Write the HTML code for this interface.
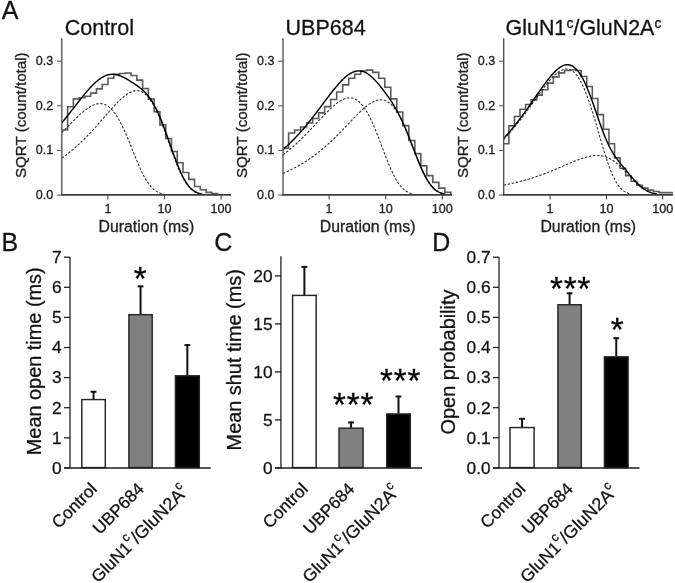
<!DOCTYPE html>
<html><head><meta charset="utf-8"><title>Figure</title>
<style>
html,body{margin:0;padding:0;background:#fff;}
body{width:675px;height:583px;overflow:hidden;font-family:"Liberation Sans",sans-serif;}
svg{display:block;will-change:transform;}
svg text{font-family:"Liberation Sans",sans-serif;}
</style></head><body>
<svg width="675" height="583" viewBox="0 0 675 583" font-family='"Liberation Sans", sans-serif'>
<g stroke="#1a1a1a" stroke-width="0.3">
<path d="M61.80 129.93 L67.60 129.93 L67.60 106.74 L73.37 106.74 L73.37 98.89 L79.14 98.89 L79.14 97.82 L84.91 97.82 L84.91 96.21 L90.68 96.21 L90.68 93.13 L96.45 93.13 L96.45 88.90 L102.22 88.90 L102.22 84.57 L107.99 84.57 L107.99 78.19 L113.76 78.19 L113.76 74.40 L119.53 74.40 L119.53 73.47 L125.30 73.47 L125.30 73.06 L131.07 73.06 L131.07 75.52 L136.84 75.52 L136.84 80.11 L142.61 80.11 L142.61 88.54 L148.38 88.54 L148.38 99.11 L154.15 99.11 L154.15 111.82 L159.92 111.82 L159.92 124.89 L165.69 124.89 L165.69 138.54 L171.46 138.54 L171.46 151.47 L177.23 151.47 L177.23 162.76 L183.00 162.76 L183.00 172.48 L188.77 172.48 L188.77 179.35 L194.54 179.35 L194.54 186.57 L200.31 186.57 L200.31 189.78 L206.08 189.78 L206.08 192.37 L211.85 192.37 L211.85 193.53 L217.62 193.53 L217.62 194.60" fill="none" stroke="#5a5a5a" stroke-width="1.6" stroke-linejoin="miter"/>
<path d="M61.80 132.54 L62.65 131.70 L63.49 130.85 L64.34 130.00 L65.18 129.15 L66.03 128.30 L66.88 127.44 L67.72 126.59 L68.57 125.73 L69.41 124.88 L70.26 124.02 L71.11 123.17 L71.95 122.32 L72.80 121.48 L73.64 120.64 L74.49 119.81 L75.34 118.98 L76.18 118.16 L77.03 117.35 L77.87 116.54 L78.72 115.75 L79.57 114.97 L80.41 114.21 L81.26 113.45 L82.10 112.72 L82.95 112.00 L83.80 111.30 L84.64 110.61 L85.49 109.95 L86.33 109.32 L87.18 108.70 L88.03 108.12 L88.87 107.56 L89.72 107.03 L90.56 106.53 L91.41 106.06 L92.26 105.63 L93.10 105.23 L93.95 104.88 L94.79 104.56 L95.64 104.29 L96.49 104.06 L97.33 103.87 L98.18 103.74 L99.02 103.65 L99.87 103.62 L100.72 103.64 L101.56 103.71 L102.41 103.84 L103.25 104.03 L104.10 104.28 L104.95 104.60 L105.79 104.98 L106.64 105.42 L107.48 105.93 L108.33 106.51 L109.18 107.15 L110.02 107.87 L110.87 108.66 L111.71 109.52 L112.56 110.45 L113.41 111.45 L114.25 112.52 L115.10 113.67 L115.94 114.89 L116.79 116.17 L117.64 117.53 L118.48 118.96 L119.33 120.45 L120.17 122.01 L121.02 123.63 L121.87 125.31 L122.71 127.05 L123.56 128.84 L124.40 130.69 L125.25 132.58 L126.10 134.51 L126.94 136.49 L127.79 138.50 L128.63 140.54 L129.48 142.60 L130.33 144.69 L131.17 146.78 L132.02 148.89 L132.86 151.00 L133.71 153.10 L134.56 155.20 L135.40 157.27 L136.25 159.33 L137.09 161.36 L137.94 163.36 L138.79 165.32 L139.63 167.23 L140.48 169.10 L141.32 170.91 L142.17 172.66 L143.02 174.35 L143.86 175.98 L144.71 177.53 L145.55 179.01 L146.40 180.42 L147.25 181.75 L148.09 183.00 L148.94 184.17 L149.78 185.27 L150.63 186.29 L151.48 187.23 L152.32 188.09 L153.17 188.89 L154.01 189.61 L154.86 190.26 L155.71 190.85 L156.55 191.38 L157.40 191.85 L158.24 192.26 L159.09 192.63 L159.94 192.95 L160.78 193.22 L161.63 193.46 L162.47 193.67 L163.32 193.84 L164.17 194.60" fill="none" stroke="#222" stroke-width="1.05" stroke-dasharray="2.4 1.7"/>
<path d="M61.80 158.15 L62.65 157.55 L63.49 156.94 L64.34 156.32 L65.18 155.69 L66.03 155.05 L66.88 154.41 L67.72 153.75 L68.57 153.08 L69.41 152.41 L70.26 151.73 L71.11 151.03 L71.95 150.33 L72.80 149.62 L73.64 148.90 L74.49 148.17 L75.34 147.43 L76.18 146.68 L77.03 145.92 L77.87 145.15 L78.72 144.37 L79.57 143.58 L80.41 142.79 L81.26 141.98 L82.10 141.17 L82.95 140.34 L83.80 139.51 L84.64 138.67 L85.49 137.81 L86.33 136.95 L87.18 136.09 L88.03 135.21 L88.87 134.32 L89.72 133.43 L90.56 132.53 L91.41 131.62 L92.26 130.71 L93.10 129.78 L93.95 128.85 L94.79 127.92 L95.64 126.98 L96.49 126.03 L97.33 125.07 L98.18 124.12 L99.02 123.15 L99.87 122.19 L100.72 121.22 L101.56 120.25 L102.41 119.27 L103.25 118.30 L104.10 117.32 L104.95 116.34 L105.79 115.37 L106.64 114.39 L107.48 113.42 L108.33 112.45 L109.18 111.48 L110.02 110.52 L110.87 109.56 L111.71 108.62 L112.56 107.68 L113.41 106.74 L114.25 105.82 L115.10 104.91 L115.94 104.02 L116.79 103.14 L117.64 102.27 L118.48 101.42 L119.33 100.59 L120.17 99.78 L121.02 98.99 L121.87 98.23 L122.71 97.49 L123.56 96.78 L124.40 96.09 L125.25 95.44 L126.10 94.82 L126.94 94.24 L127.79 93.69 L128.63 93.18 L129.48 92.71 L130.33 92.28 L131.17 91.90 L132.02 91.57 L132.86 91.29 L133.71 91.06 L134.56 90.88 L135.40 90.76 L136.25 90.69 L137.09 90.69 L137.94 90.75 L138.79 90.87 L139.63 91.06 L140.48 91.32 L141.32 91.65 L142.17 92.05 L143.02 92.52 L143.86 93.08 L144.71 93.70 L145.55 94.41 L146.40 95.19 L147.25 96.06 L148.09 97.01 L148.94 98.04 L149.78 99.15 L150.63 100.34 L151.48 101.62 L152.32 102.97 L153.17 104.41 L154.01 105.93 L154.86 107.53 L155.71 109.20 L156.55 110.95 L157.40 112.77 L158.24 114.66 L159.09 116.62 L159.94 118.64 L160.78 120.73 L161.63 122.87 L162.47 125.06 L163.32 127.30 L164.17 129.58 L165.01 131.89 L165.86 134.24 L166.70 136.61 L167.55 139.00 L168.40 141.40 L169.24 143.81 L170.09 146.21 L170.93 148.61 L171.78 150.99 L172.63 153.36 L173.47 155.69 L174.32 157.99 L175.16 160.24 L176.01 162.45 L176.86 164.61 L177.70 166.70 L178.55 168.73 L179.39 170.69 L180.24 172.58 L181.09 174.38 L181.93 176.11 L182.78 177.75 L183.62 179.31 L184.47 180.77 L185.32 182.15 L186.16 183.44 L187.01 184.64 L187.85 185.75 L188.70 186.77 L189.55 187.71 L190.39 188.57 L191.24 189.35 L192.08 190.05 L192.93 190.68 L193.78 191.24 L194.62 191.74 L195.47 192.18 L196.31 192.57 L197.16 192.90 L198.01 193.19 L198.85 193.44 L199.70 193.65 L200.54 193.83 L201.39 194.60" fill="none" stroke="#222" stroke-width="1.05" stroke-dasharray="2.4 1.7"/>
<path d="M61.80 122.91 L62.65 121.88 L63.49 120.85 L64.34 119.80 L65.18 118.76 L66.03 117.70 L66.88 116.64 L67.72 115.57 L68.57 114.50 L69.41 113.43 L70.26 112.35 L71.11 111.27 L71.95 110.18 L72.80 109.10 L73.64 108.01 L74.49 106.92 L75.34 105.84 L76.18 104.75 L77.03 103.66 L77.87 102.58 L78.72 101.50 L79.57 100.43 L80.41 99.36 L81.26 98.30 L82.10 97.24 L82.95 96.19 L83.80 95.16 L84.64 94.13 L85.49 93.11 L86.33 92.11 L87.18 91.12 L88.03 90.15 L88.87 89.20 L89.72 88.26 L90.56 87.34 L91.41 86.44 L92.26 85.57 L93.10 84.71 L93.95 83.89 L94.79 83.08 L95.64 82.31 L96.49 81.56 L97.33 80.85 L98.18 80.16 L99.02 79.51 L99.87 78.89 L100.72 78.31 L101.56 77.76 L102.41 77.25 L103.25 76.78 L104.10 76.35 L104.95 75.95 L105.79 75.60 L106.64 75.29 L107.48 75.02 L108.33 74.79 L109.18 74.60 L110.02 74.46 L110.87 74.36 L111.71 74.30 L112.56 74.28 L113.41 74.31 L114.25 74.37 L115.10 74.48 L115.94 74.62 L116.79 74.80 L117.64 75.01 L118.48 75.26 L119.33 75.54 L120.17 75.85 L121.02 76.20 L121.87 76.56 L122.71 76.96 L123.56 77.37 L124.40 77.81 L125.25 78.26 L126.10 78.73 L126.94 79.21 L127.79 79.71 L128.63 80.22 L129.48 80.73 L130.33 81.26 L131.17 81.79 L132.02 82.33 L132.86 82.87 L133.71 83.42 L134.56 83.98 L135.40 84.55 L136.25 85.12 L137.09 85.71 L137.94 86.31 L138.79 86.93 L139.63 87.57 L140.48 88.23 L141.32 88.91 L142.17 89.63 L143.02 90.37 L143.86 91.16 L144.71 91.98 L145.55 92.85 L146.40 93.77 L147.25 94.74 L148.09 95.77 L148.94 96.86 L149.78 98.01 L150.63 99.22 L151.48 100.50 L152.32 101.85 L153.17 103.27 L154.01 104.76 L154.86 106.33 L155.71 107.96 L156.55 109.67 L157.40 111.44 L158.24 113.29 L159.09 115.20 L159.94 117.17 L160.78 119.21 L161.63 121.30 L162.47 123.45 L163.32 125.65 L164.17 127.89 L165.01 130.18 L165.86 132.49 L166.70 134.84 L167.55 137.21 L168.40 139.60 L169.24 142.00 L170.09 144.40 L170.93 146.80 L171.78 149.19 L172.63 151.57 L173.47 153.92 L174.32 156.24 L175.16 158.52 L176.01 160.77 L176.86 162.96 L177.70 165.10 L178.55 167.17 L179.39 169.19 L180.24 171.13 L181.09 172.99 L181.93 174.78 L182.78 176.49 L183.62 178.11 L184.47 179.64 L185.32 181.09 L186.16 182.44 L187.01 183.71 L187.85 184.89 L188.70 185.98 L189.55 186.98 L190.39 187.90 L191.24 188.74 L192.08 189.51 L192.93 190.19 L193.78 190.81 L194.62 191.36 L195.47 191.84 L196.31 192.27 L197.16 192.65 L198.01 192.97 L198.85 193.25 L199.70 193.49 L200.54 193.70 L201.39 193.87 L202.24 194.01" fill="none" stroke="#000" stroke-width="1.45" stroke-linejoin="round"/>
<line x1="61.80" y1="38.3" x2="61.80" y2="195.50" stroke="#505050" stroke-width="1.35"/>
<line x1="61.10" y1="194.80" x2="231.00" y2="194.80" stroke="#3c3c3c" stroke-width="1.75"/>
<line x1="57.00" y1="195.00" x2="61.80" y2="195.00" stroke="#555" stroke-width="1.05"/>
<text x="53.20" y="198.90" font-size="12.5" text-anchor="end" fill="#222">0.0</text>
<line x1="57.00" y1="150.40" x2="61.80" y2="150.40" stroke="#555" stroke-width="1.05"/>
<text x="53.20" y="154.30" font-size="12.5" text-anchor="end" fill="#222">0.1</text>
<line x1="57.00" y1="105.80" x2="61.80" y2="105.80" stroke="#555" stroke-width="1.05"/>
<text x="53.20" y="109.70" font-size="12.5" text-anchor="end" fill="#222">0.2</text>
<line x1="57.00" y1="61.20" x2="61.80" y2="61.20" stroke="#555" stroke-width="1.05"/>
<text x="53.20" y="65.10" font-size="12.5" text-anchor="end" fill="#222">0.3</text>
<line x1="107.90" y1="194.60" x2="107.90" y2="199.50" stroke="#4a4a4a" stroke-width="1.1"/>
<text x="107.90" y="212.8" font-size="12.6" text-anchor="middle" fill="#222">1</text>
<line x1="164.50" y1="194.60" x2="164.50" y2="199.50" stroke="#4a4a4a" stroke-width="1.1"/>
<text x="164.50" y="212.8" font-size="12.6" text-anchor="middle" fill="#222">10</text>
<line x1="221.10" y1="194.60" x2="221.10" y2="199.50" stroke="#4a4a4a" stroke-width="1.1"/>
<text x="221.10" y="212.8" font-size="12.6" text-anchor="middle" fill="#222">100</text>
<text x="146.40" y="232.0" font-size="15.8" text-anchor="middle" fill="#222">Duration (ms)</text>
<text transform="translate(25.60 115.20) rotate(-90)" font-size="15.15" text-anchor="middle" fill="#222">SQRT (count/total)</text>
<text x="64.70" y="35" font-size="21.5" fill="#111">Control</text>
<path d="M283.00 148.22 L288.60 148.22 L288.60 133.05 L294.61 133.05 L294.61 130.02 L300.62 130.02 L300.62 126.94 L306.63 126.94 L306.63 122.93 L312.64 122.93 L312.64 118.51 L318.65 118.51 L318.65 112.89 L324.66 112.89 L324.66 106.60 L330.67 106.60 L330.67 99.56 L336.68 99.56 L336.68 91.93 L342.69 91.93 L342.69 84.88 L348.70 84.88 L348.70 78.19 L354.71 78.19 L354.71 74.18 L360.72 74.18 L360.72 70.79 L366.73 70.79 L366.73 70.17 L372.74 70.17 L372.74 72.40 L378.75 72.40 L378.75 78.19 L384.76 78.19 L384.76 87.25 L390.77 87.25 L390.77 98.89 L396.78 98.89 L396.78 111.96 L402.79 111.96 L402.79 125.60 L408.80 125.60 L408.80 140.50 L414.81 140.50 L414.81 153.66 L420.82 153.66 L420.82 165.88 L426.83 165.88 L426.83 175.64 L432.84 175.64 L432.84 182.33 L438.85 182.33 L438.85 188.13 L444.86 188.13 L444.86 192.24 L450.87 192.24 L450.87 194.60" fill="none" stroke="#5a5a5a" stroke-width="1.6" stroke-linejoin="miter"/>
<path d="M283.00 154.84 L283.85 154.19 L284.69 153.54 L285.54 152.88 L286.38 152.21 L287.23 151.54 L288.07 150.85 L288.92 150.16 L289.76 149.45 L290.61 148.74 L291.45 148.02 L292.30 147.29 L293.14 146.55 L293.99 145.80 L294.83 145.05 L295.68 144.28 L296.52 143.51 L297.37 142.73 L298.21 141.94 L299.06 141.14 L299.90 140.33 L300.75 139.52 L301.59 138.70 L302.44 137.87 L303.28 137.03 L304.12 136.19 L304.97 135.34 L305.81 134.48 L306.66 133.62 L307.50 132.75 L308.35 131.88 L309.19 131.00 L310.04 130.11 L310.88 129.22 L311.73 128.33 L312.57 127.43 L313.42 126.53 L314.26 125.63 L315.11 124.72 L315.95 123.81 L316.80 122.91 L317.64 122.00 L318.49 121.09 L319.33 120.18 L320.18 119.27 L321.02 118.37 L321.87 117.47 L322.72 116.58 L323.56 115.68 L324.40 114.80 L325.25 113.92 L326.10 113.05 L326.94 112.19 L327.78 111.34 L328.63 110.51 L329.48 109.68 L330.32 108.87 L331.17 108.08 L332.01 107.30 L332.86 106.54 L333.70 105.80 L334.55 105.08 L335.39 104.38 L336.24 103.71 L337.08 103.07 L337.93 102.45 L338.77 101.86 L339.62 101.31 L340.46 100.79 L341.31 100.30 L342.15 99.85 L343.00 99.44 L343.84 99.07 L344.69 98.75 L345.53 98.47 L346.38 98.24 L347.22 98.05 L348.06 97.92 L348.91 97.84 L349.75 97.82 L350.60 97.85 L351.44 97.95 L352.29 98.10 L353.13 98.32 L353.98 98.60 L354.82 98.95 L355.67 99.37 L356.51 99.85 L357.36 100.41 L358.20 101.04 L359.05 101.74 L359.89 102.52 L360.74 103.38 L361.58 104.30 L362.43 105.31 L363.27 106.39 L364.12 107.55 L364.97 108.78 L365.81 110.09 L366.65 111.48 L367.50 112.93 L368.35 114.46 L369.19 116.07 L370.03 117.73 L370.88 119.47 L371.73 121.27 L372.57 123.13 L373.42 125.05 L374.26 127.02 L375.11 129.04 L375.95 131.10 L376.80 133.21 L377.64 135.35 L378.49 137.52 L379.33 139.72 L380.18 141.93 L381.02 144.17 L381.87 146.40 L382.71 148.64 L383.56 150.88 L384.40 153.10 L385.25 155.31 L386.09 157.49 L386.94 159.64 L387.78 161.75 L388.62 163.83 L389.47 165.85 L390.31 167.82 L391.16 169.74 L392.00 171.59 L392.85 173.37 L393.69 175.08 L394.54 176.72 L395.38 178.28 L396.23 179.76 L397.07 181.16 L397.92 182.48 L398.76 183.71 L399.61 184.86 L400.45 185.93 L401.30 186.91 L402.14 187.82 L402.99 188.65 L403.83 189.41 L404.68 190.09 L405.52 190.70 L406.37 191.26 L407.22 191.75 L408.06 192.18 L408.90 192.56 L409.75 192.89 L410.60 193.18 L411.44 193.43 L412.28 193.64 L413.13 193.82 L413.98 194.60" fill="none" stroke="#222" stroke-width="1.05" stroke-dasharray="2.4 1.7"/>
<path d="M283.00 173.40 L283.85 173.04 L284.69 172.67 L285.54 172.30 L286.38 171.92 L287.23 171.54 L288.07 171.15 L288.92 170.75 L289.76 170.35 L290.61 169.94 L291.45 169.52 L292.30 169.10 L293.14 168.67 L293.99 168.23 L294.83 167.79 L295.68 167.34 L296.52 166.88 L297.37 166.41 L298.21 165.94 L299.06 165.46 L299.90 164.98 L300.75 164.48 L301.59 163.98 L302.44 163.47 L303.28 162.96 L304.12 162.43 L304.97 161.90 L305.81 161.36 L306.66 160.81 L307.50 160.25 L308.35 159.69 L309.19 159.12 L310.04 158.54 L310.88 157.95 L311.73 157.35 L312.57 156.74 L313.42 156.13 L314.26 155.51 L315.11 154.88 L315.95 154.24 L316.80 153.59 L317.64 152.93 L318.49 152.26 L319.33 151.59 L320.18 150.91 L321.02 150.22 L321.87 149.52 L322.72 148.81 L323.56 148.09 L324.40 147.37 L325.25 146.63 L326.10 145.89 L326.94 145.14 L327.78 144.38 L328.63 143.61 L329.48 142.84 L330.32 142.05 L331.17 141.26 L332.01 140.46 L332.86 139.66 L333.70 138.84 L334.55 138.02 L335.39 137.20 L336.24 136.36 L337.08 135.52 L337.93 134.67 L338.77 133.82 L339.62 132.96 L340.46 132.10 L341.31 131.23 L342.15 130.36 L343.00 129.48 L343.84 128.60 L344.69 127.72 L345.53 126.83 L346.38 125.95 L347.22 125.06 L348.06 124.17 L348.91 123.28 L349.75 122.39 L350.60 121.50 L351.44 120.61 L352.29 119.72 L353.13 118.84 L353.98 117.97 L354.82 117.10 L355.67 116.23 L356.51 115.37 L357.36 114.52 L358.20 113.68 L359.05 112.85 L359.89 112.04 L360.74 111.23 L361.58 110.44 L362.43 109.66 L363.27 108.90 L364.12 108.16 L364.97 107.44 L365.81 106.74 L366.65 106.07 L367.50 105.42 L368.35 104.79 L369.19 104.19 L370.03 103.62 L370.88 103.09 L371.73 102.58 L372.57 102.11 L373.42 101.68 L374.26 101.29 L375.11 100.94 L375.95 100.63 L376.80 100.36 L377.64 100.15 L378.49 99.98 L379.33 99.86 L380.18 99.79 L381.02 99.78 L381.87 99.83 L382.71 99.93 L383.56 100.10 L384.40 100.32 L385.25 100.62 L386.09 100.97 L386.94 101.39 L387.78 101.89 L388.62 102.45 L389.47 103.08 L390.31 103.79 L391.16 104.56 L392.00 105.42 L392.85 106.34 L393.69 107.34 L394.54 108.42 L395.38 109.57 L396.23 110.80 L397.07 112.09 L397.92 113.47 L398.76 114.91 L399.61 116.42 L400.45 118.01 L401.30 119.66 L402.14 121.37 L402.99 123.15 L403.83 124.98 L404.68 126.87 L405.52 128.81 L406.37 130.80 L407.22 132.83 L408.06 134.90 L408.90 137.01 L409.75 139.14 L410.60 141.30 L411.44 143.48 L412.28 145.66 L413.13 147.86 L413.98 150.05 L414.82 152.24 L415.66 154.41 L416.51 156.57 L417.36 158.70 L418.20 160.80 L419.04 162.87 L419.89 164.89 L420.74 166.86 L421.58 168.78 L422.43 170.64 L423.27 172.44 L424.12 174.17 L424.96 175.83 L425.81 177.42 L426.65 178.93 L427.50 180.37 L428.34 181.72 L429.19 182.99 L430.03 184.18 L430.88 185.29 L431.72 186.32 L432.56 187.27 L433.41 188.14 L434.25 188.94 L435.10 189.66 L435.94 190.32 L436.79 190.91 L437.63 191.43 L438.48 191.90 L439.32 192.31 L440.17 192.67 L441.01 192.99 L441.86 193.26 L442.71 193.50 L443.55 193.70 L444.39 193.87 L445.24 194.60" fill="none" stroke="#222" stroke-width="1.05" stroke-dasharray="2.4 1.7"/>
<path d="M283.00 149.54 L283.85 148.80 L284.69 148.05 L285.54 147.30 L286.38 146.53 L287.23 145.75 L288.07 144.96 L288.92 144.16 L289.76 143.35 L290.61 142.53 L291.45 141.70 L292.30 140.85 L293.14 140.00 L293.99 139.13 L294.83 138.26 L295.68 137.37 L296.52 136.47 L297.37 135.56 L298.21 134.65 L299.06 133.72 L299.90 132.78 L300.75 131.82 L301.59 130.86 L302.44 129.89 L303.28 128.91 L304.12 127.92 L304.97 126.92 L305.81 125.91 L306.66 124.89 L307.50 123.86 L308.35 122.82 L309.19 121.77 L310.04 120.71 L310.88 119.65 L311.73 118.58 L312.57 117.50 L313.42 116.41 L314.26 115.32 L315.11 114.22 L315.95 113.11 L316.80 112.00 L317.64 110.89 L318.49 109.77 L319.33 108.65 L320.18 107.52 L321.02 106.39 L321.87 105.26 L322.72 104.13 L323.56 103.00 L324.40 101.87 L325.25 100.74 L326.10 99.61 L326.94 98.49 L327.78 97.37 L328.63 96.26 L329.48 95.15 L330.32 94.05 L331.17 92.96 L332.01 91.87 L332.86 90.80 L333.70 89.74 L334.55 88.70 L335.39 87.67 L336.24 86.65 L337.08 85.66 L337.93 84.68 L338.77 83.72 L339.62 82.79 L340.46 81.87 L341.31 80.99 L342.15 80.13 L343.00 79.29 L343.84 78.49 L344.69 77.72 L345.53 76.98 L346.38 76.28 L347.22 75.61 L348.06 74.98 L348.91 74.39 L349.75 73.85 L350.60 73.34 L351.44 72.88 L352.29 72.46 L353.13 72.09 L353.98 71.76 L354.82 71.49 L355.67 71.27 L356.51 71.09 L357.36 70.97 L358.20 70.90 L359.05 70.89 L359.89 70.93 L360.74 71.02 L361.58 71.16 L362.43 71.36 L363.27 71.62 L364.12 71.93 L364.97 72.29 L365.81 72.70 L366.65 73.16 L367.50 73.67 L368.35 74.24 L369.19 74.84 L370.03 75.50 L370.88 76.20 L371.73 76.94 L372.57 77.72 L373.42 78.53 L374.26 79.39 L375.11 80.27 L375.95 81.19 L376.80 82.13 L377.64 83.10 L378.49 84.09 L379.33 85.11 L380.18 86.15 L381.02 87.20 L381.87 88.28 L382.71 89.37 L383.56 90.47 L384.40 91.59 L385.25 92.73 L386.09 93.88 L386.94 95.05 L387.78 96.24 L388.62 97.45 L389.47 98.67 L390.31 99.92 L391.16 101.19 L392.00 102.50 L392.85 103.83 L393.69 105.19 L394.54 106.58 L395.38 108.02 L396.23 109.49 L397.07 111.01 L397.92 112.57 L398.76 114.17 L399.61 115.82 L400.45 117.52 L401.30 119.26 L402.14 121.06 L402.99 122.90 L403.83 124.79 L404.68 126.72 L405.52 128.70 L406.37 130.71 L407.22 132.77 L408.06 134.86 L408.90 136.97 L409.75 139.12 L410.60 141.28 L411.44 143.46 L412.28 145.65 L413.13 147.85 L413.98 150.05 L414.82 152.24 L415.66 154.41 L416.51 156.57 L417.36 158.70 L418.20 160.80 L419.04 162.87 L419.89 164.89 L420.74 166.86 L421.58 168.78 L422.43 170.64 L423.27 172.44 L424.12 174.17 L424.96 175.83 L425.81 177.42 L426.65 178.93 L427.50 180.37 L428.34 181.72 L429.19 182.99 L430.03 184.18 L430.88 185.29 L431.72 186.32 L432.56 187.27 L433.41 188.14 L434.25 188.94 L435.10 189.66 L435.94 190.32 L436.79 190.91 L437.63 191.43 L438.48 191.90 L439.32 192.31 L440.17 192.67 L441.01 192.99 L441.86 193.26 L442.71 193.50 L443.55 193.70 L444.39 193.87 L445.24 194.01" fill="none" stroke="#000" stroke-width="1.45" stroke-linejoin="round"/>
<line x1="283.00" y1="38.3" x2="283.00" y2="195.50" stroke="#505050" stroke-width="1.35"/>
<line x1="282.30" y1="194.80" x2="452.00" y2="194.80" stroke="#3c3c3c" stroke-width="1.75"/>
<line x1="278.20" y1="195.00" x2="283.00" y2="195.00" stroke="#555" stroke-width="1.05"/>
<text x="274.40" y="198.90" font-size="12.5" text-anchor="end" fill="#222">0.0</text>
<line x1="278.20" y1="150.40" x2="283.00" y2="150.40" stroke="#555" stroke-width="1.05"/>
<text x="274.40" y="154.30" font-size="12.5" text-anchor="end" fill="#222">0.1</text>
<line x1="278.20" y1="105.80" x2="283.00" y2="105.80" stroke="#555" stroke-width="1.05"/>
<text x="274.40" y="109.70" font-size="12.5" text-anchor="end" fill="#222">0.2</text>
<line x1="278.20" y1="61.20" x2="283.00" y2="61.20" stroke="#555" stroke-width="1.05"/>
<text x="274.40" y="65.10" font-size="12.5" text-anchor="end" fill="#222">0.3</text>
<line x1="329.10" y1="194.60" x2="329.10" y2="199.50" stroke="#4a4a4a" stroke-width="1.1"/>
<text x="329.10" y="212.8" font-size="12.6" text-anchor="middle" fill="#222">1</text>
<line x1="385.70" y1="194.60" x2="385.70" y2="199.50" stroke="#4a4a4a" stroke-width="1.1"/>
<text x="385.70" y="212.8" font-size="12.6" text-anchor="middle" fill="#222">10</text>
<line x1="442.30" y1="194.60" x2="442.30" y2="199.50" stroke="#4a4a4a" stroke-width="1.1"/>
<text x="442.30" y="212.8" font-size="12.6" text-anchor="middle" fill="#222">100</text>
<text x="367.60" y="232.0" font-size="15.8" text-anchor="middle" fill="#222">Duration (ms)</text>
<text transform="translate(246.80 115.20) rotate(-90)" font-size="15.15" text-anchor="middle" fill="#222">SQRT (count/total)</text>
<text x="285.60" y="35" font-size="21.5" fill="#111">UBP684</text>
<path d="M503.70 143.76 L508.90 143.76 L508.90 125.92 L514.46 125.92 L514.46 116.55 L520.02 116.55 L520.02 109.19 L525.58 109.19 L525.58 104.51 L531.14 104.51 L531.14 99.83 L536.70 99.83 L536.70 95.14 L542.26 95.14 L542.26 89.79 L547.82 89.79 L547.82 83.10 L553.38 83.10 L553.38 76.86 L558.94 76.86 L558.94 72.84 L564.50 72.84 L564.50 70.43 L570.06 70.43 L570.06 69.72 L575.62 69.72 L575.62 70.43 L581.18 70.43 L581.18 76.50 L586.74 76.50 L586.74 86.49 L592.30 86.49 L592.30 98.53 L597.86 98.53 L597.86 114.59 L603.42 114.59 L603.42 129.31 L608.98 129.31 L608.98 143.76 L614.54 143.76 L614.54 157.89 L620.10 157.89 L620.10 168.20 L625.66 168.20 L625.66 175.69 L631.22 175.69 L631.22 181.22 L636.78 181.22 L636.78 185.32 L642.34 185.32 L642.34 188.09 L647.90 188.09 L647.90 190.14 L653.46 190.14 L653.46 191.48 L659.02 191.48 L659.02 192.59 L664.58 192.59 L664.58 192.59 L670.14 192.59 L670.14 192.59 L673.00 192.59" fill="none" stroke="#5a5a5a" stroke-width="1.6" stroke-linejoin="miter"/>
<path d="M503.70 139.37 L504.55 138.48 L505.39 137.58 L506.24 136.67 L507.09 135.75 L507.93 134.81 L508.78 133.87 L509.63 132.91 L510.47 131.94 L511.32 130.96 L512.16 129.97 L513.01 128.97 L513.86 127.95 L514.70 126.93 L515.55 125.89 L516.40 124.85 L517.24 123.79 L518.09 122.72 L518.94 121.65 L519.78 120.56 L520.63 119.46 L521.48 118.36 L522.32 117.24 L523.17 116.12 L524.02 114.99 L524.86 113.85 L525.71 112.70 L526.56 111.55 L527.40 110.39 L528.25 109.23 L529.10 108.06 L529.94 106.88 L530.79 105.70 L531.63 104.52 L532.48 103.34 L533.33 102.15 L534.17 100.96 L535.02 99.78 L535.87 98.59 L536.71 97.40 L537.56 96.22 L538.41 95.04 L539.25 93.87 L540.10 92.71 L540.95 91.55 L541.79 90.40 L542.64 89.26 L543.49 88.13 L544.33 87.01 L545.18 85.91 L546.02 84.83 L546.87 83.76 L547.72 82.72 L548.56 81.69 L549.41 80.69 L550.26 79.71 L551.10 78.77 L551.95 77.85 L552.80 76.96 L553.64 76.11 L554.49 75.29 L555.34 74.51 L556.18 73.78 L557.03 73.08 L557.88 72.43 L558.72 71.83 L559.57 71.29 L560.42 70.79 L561.26 70.35 L562.11 69.97 L562.96 69.65 L563.80 69.40 L564.65 69.21 L565.49 69.10 L566.34 69.05 L567.19 69.08 L568.03 69.19 L568.88 69.38 L569.73 69.65 L570.57 70.00 L571.42 70.44 L572.27 70.98 L573.11 71.60 L573.96 72.32 L574.81 73.13 L575.65 74.03 L576.50 75.04 L577.35 76.14 L578.19 77.35 L579.04 78.65 L579.88 80.06 L580.73 81.56 L581.58 83.17 L582.42 84.87 L583.27 86.68 L584.12 88.58 L584.96 90.57 L585.81 92.66 L586.66 94.84 L587.50 97.10 L588.35 99.45 L589.20 101.88 L590.04 104.39 L590.89 106.96 L591.74 109.60 L592.58 112.30 L593.43 115.05 L594.28 117.85 L595.12 120.69 L595.97 123.57 L596.81 126.46 L597.66 129.38 L598.51 132.30 L599.35 135.23 L600.20 138.15 L601.05 141.05 L601.89 143.93 L602.74 146.77 L603.59 149.58 L604.43 152.34 L605.28 155.04 L606.13 157.67 L606.97 160.24 L607.82 162.73 L608.67 165.13 L609.51 167.45 L610.36 169.67 L611.21 171.79 L612.05 173.80 L612.90 175.72 L613.75 177.52 L614.59 179.22 L615.44 180.81 L616.28 182.29 L617.13 183.66 L617.98 184.92 L618.82 186.08 L619.67 187.14 L620.52 188.10 L621.36 188.97 L622.21 189.75 L623.06 190.45 L623.90 191.07 L624.75 191.61 L625.60 192.09 L626.44 192.50 L627.29 192.86 L628.14 193.17 L628.98 193.43 L629.83 193.65 L630.67 193.84 L631.52 194.60" fill="none" stroke="#222" stroke-width="1.05" stroke-dasharray="2.4 1.7"/>
<path d="M503.70 185.10 L504.55 184.93 L505.39 184.77 L506.24 184.60 L507.09 184.43 L507.93 184.26 L508.78 184.08 L509.63 183.90 L510.47 183.72 L511.32 183.54 L512.16 183.35 L513.01 183.16 L513.86 182.97 L514.70 182.77 L515.55 182.57 L516.40 182.37 L517.24 182.17 L518.09 181.96 L518.94 181.74 L519.78 181.53 L520.63 181.31 L521.48 181.09 L522.32 180.87 L523.17 180.64 L524.02 180.41 L524.86 180.17 L525.71 179.93 L526.56 179.69 L527.40 179.45 L528.25 179.20 L529.10 178.94 L529.94 178.69 L530.79 178.43 L531.63 178.17 L532.48 177.90 L533.33 177.63 L534.17 177.36 L535.02 177.08 L535.87 176.80 L536.71 176.51 L537.56 176.23 L538.41 175.93 L539.25 175.64 L540.10 175.34 L540.95 175.04 L541.79 174.73 L542.64 174.42 L543.49 174.11 L544.33 173.79 L545.18 173.47 L546.02 173.15 L546.87 172.82 L547.72 172.49 L548.56 172.16 L549.41 171.83 L550.26 171.49 L551.10 171.15 L551.95 170.80 L552.80 170.45 L553.64 170.10 L554.49 169.75 L555.34 169.40 L556.18 169.04 L557.03 168.68 L557.88 168.32 L558.72 167.95 L559.57 167.59 L560.42 167.22 L561.26 166.86 L562.11 166.49 L562.96 166.12 L563.80 165.75 L564.65 165.38 L565.49 165.01 L566.34 164.64 L567.19 164.27 L568.03 163.90 L568.88 163.53 L569.73 163.17 L570.57 162.81 L571.42 162.45 L572.27 162.09 L573.11 161.73 L573.96 161.38 L574.81 161.04 L575.65 160.69 L576.50 160.36 L577.35 160.03 L578.19 159.70 L579.04 159.38 L579.88 159.07 L580.73 158.77 L581.58 158.47 L582.42 158.19 L583.27 157.91 L584.12 157.65 L584.96 157.40 L585.81 157.16 L586.66 156.93 L587.50 156.71 L588.35 156.51 L589.20 156.33 L590.04 156.16 L590.89 156.01 L591.74 155.87 L592.58 155.76 L593.43 155.66 L594.28 155.59 L595.12 155.53 L595.97 155.50 L596.81 155.49 L597.66 155.50 L598.51 155.54 L599.35 155.60 L600.20 155.68 L601.05 155.80 L601.89 155.94 L602.74 156.11 L603.59 156.31 L604.43 156.53 L605.28 156.79 L606.13 157.08 L606.97 157.40 L607.82 157.74 L608.67 158.12 L609.51 158.53 L610.36 158.98 L611.21 159.45 L612.05 159.95 L612.90 160.49 L613.75 161.05 L614.59 161.65 L615.44 162.28 L616.28 162.93 L617.13 163.61 L617.98 164.32 L618.82 165.06 L619.67 165.82 L620.52 166.60 L621.36 167.41 L622.21 168.23 L623.06 169.07 L623.90 169.93 L624.75 170.81 L625.60 171.69 L626.44 172.59 L627.29 173.49 L628.14 174.40 L628.98 175.31 L629.83 176.22 L630.67 177.13 L631.52 178.04 L632.37 178.93 L633.21 179.82 L634.06 180.69 L634.91 181.55 L635.75 182.39 L636.60 183.20 L637.45 184.00 L638.29 184.77 L639.14 185.52 L639.99 186.23 L640.83 186.92 L641.68 187.58 L642.53 188.20 L643.37 188.79 L644.22 189.35 L645.07 189.88 L645.91 190.37 L646.76 190.82 L647.61 191.25 L648.45 191.63 L649.30 191.99 L650.14 192.32 L650.99 192.61 L651.84 192.88 L652.68 193.12 L653.53 193.33 L654.38 193.52 L655.22 193.69 L656.07 193.84 L656.92 194.60" fill="none" stroke="#222" stroke-width="1.05" stroke-dasharray="2.4 1.7"/>
<path d="M503.70 138.29 L504.55 137.38 L505.39 136.46 L506.24 135.53 L507.09 134.59 L507.93 133.63 L508.78 132.66 L509.63 131.69 L510.47 130.69 L511.32 129.69 L512.16 128.68 L513.01 127.65 L513.86 126.62 L514.70 125.57 L515.55 124.51 L516.40 123.44 L517.24 122.36 L518.09 121.26 L518.94 120.16 L519.78 119.05 L520.63 117.93 L521.48 116.79 L522.32 115.65 L523.17 114.50 L524.02 113.34 L524.86 112.17 L525.71 111.00 L526.56 109.81 L527.40 108.62 L528.25 107.43 L529.10 106.23 L529.94 105.02 L530.79 103.81 L531.63 102.59 L532.48 101.37 L533.33 100.15 L534.17 98.93 L535.02 97.70 L535.87 96.48 L536.71 95.25 L537.56 94.03 L538.41 92.82 L539.25 91.60 L540.10 90.40 L540.95 89.19 L541.79 88.00 L542.64 86.82 L543.49 85.64 L544.33 84.48 L545.18 83.34 L546.02 82.20 L546.87 81.09 L547.72 79.99 L548.56 78.92 L549.41 77.86 L550.26 76.83 L551.10 75.83 L551.95 74.85 L552.80 73.91 L553.64 73.00 L554.49 72.12 L555.34 71.28 L556.18 70.48 L557.03 69.72 L557.88 69.00 L558.72 68.33 L559.57 67.71 L560.42 67.14 L561.26 66.63 L562.11 66.17 L562.96 65.77 L563.80 65.43 L564.65 65.16 L565.49 64.95 L566.34 64.81 L567.19 64.75 L568.03 64.76 L568.88 64.84 L569.73 65.01 L570.57 65.25 L571.42 65.58 L572.27 65.99 L573.11 66.49 L573.96 67.08 L574.81 67.76 L575.65 68.52 L576.50 69.38 L577.35 70.34 L578.19 71.38 L579.04 72.52 L579.88 73.75 L580.73 75.08 L581.58 76.49 L582.42 78.00 L583.27 79.60 L584.12 81.28 L584.96 83.05 L585.81 84.90 L586.66 86.83 L587.50 88.83 L588.35 90.91 L589.20 93.05 L590.04 95.25 L590.89 97.51 L591.74 99.82 L592.58 102.17 L593.43 104.55 L594.28 106.97 L595.12 109.41 L595.97 111.86 L596.81 114.32 L597.66 116.77 L598.51 119.22 L599.35 121.65 L600.20 124.05 L601.05 126.41 L601.89 128.74 L602.74 131.01 L603.59 133.23 L604.43 135.39 L605.28 137.48 L606.13 139.50 L606.97 141.44 L607.82 143.31 L608.67 145.10 L609.51 146.81 L610.36 148.44 L611.21 150.00 L612.05 151.48 L612.90 152.90 L613.75 154.26 L614.59 155.55 L615.44 156.80 L616.28 158.00 L617.13 159.17 L617.98 160.30 L618.82 161.40 L619.67 162.48 L620.52 163.55 L621.36 164.60 L622.21 165.65 L623.06 166.69 L623.90 167.72 L624.75 168.76 L625.60 169.79 L626.44 170.82 L627.29 171.84 L628.14 172.87 L628.98 173.89 L629.83 174.91 L630.67 175.92 L631.52 176.91 L632.37 177.90 L633.21 178.87 L634.06 179.83 L634.91 180.77 L635.75 181.68 L636.60 182.57 L637.45 183.43 L638.29 184.27 L639.14 185.07 L639.99 185.84 L640.83 186.58 L641.68 187.29 L642.53 187.95 L643.37 188.58 L644.22 189.18 L645.07 189.73 L645.91 190.25 L646.76 190.73 L647.61 191.17 L648.45 191.58 L649.30 191.95 L650.14 192.29 L650.99 192.60 L651.84 192.87 L652.68 193.12 L653.53 193.34 L654.38 193.53 L655.22 193.70 L656.07 193.85 L656.92 193.98" fill="none" stroke="#000" stroke-width="1.45" stroke-linejoin="round"/>
<line x1="503.70" y1="38.3" x2="503.70" y2="195.50" stroke="#505050" stroke-width="1.35"/>
<line x1="503.00" y1="194.80" x2="673.00" y2="194.80" stroke="#3c3c3c" stroke-width="1.75"/>
<line x1="498.90" y1="195.00" x2="503.70" y2="195.00" stroke="#555" stroke-width="1.05"/>
<text x="495.10" y="198.90" font-size="12.5" text-anchor="end" fill="#222">0.0</text>
<line x1="498.90" y1="150.40" x2="503.70" y2="150.40" stroke="#555" stroke-width="1.05"/>
<text x="495.10" y="154.30" font-size="12.5" text-anchor="end" fill="#222">0.1</text>
<line x1="498.90" y1="105.80" x2="503.70" y2="105.80" stroke="#555" stroke-width="1.05"/>
<text x="495.10" y="109.70" font-size="12.5" text-anchor="end" fill="#222">0.2</text>
<line x1="498.90" y1="61.20" x2="503.70" y2="61.20" stroke="#555" stroke-width="1.05"/>
<text x="495.10" y="65.10" font-size="12.5" text-anchor="end" fill="#222">0.3</text>
<line x1="550.10" y1="194.60" x2="550.10" y2="199.50" stroke="#4a4a4a" stroke-width="1.1"/>
<text x="550.10" y="212.8" font-size="12.6" text-anchor="middle" fill="#222">1</text>
<line x1="606.40" y1="194.60" x2="606.40" y2="199.50" stroke="#4a4a4a" stroke-width="1.1"/>
<text x="606.40" y="212.8" font-size="12.6" text-anchor="middle" fill="#222">10</text>
<line x1="662.70" y1="194.60" x2="662.70" y2="199.50" stroke="#4a4a4a" stroke-width="1.1"/>
<text x="662.70" y="212.8" font-size="12.6" text-anchor="middle" fill="#222">100</text>
<text x="588.30" y="232.0" font-size="15.8" text-anchor="middle" fill="#222">Duration (ms)</text>
<text transform="translate(467.50 115.20) rotate(-90)" font-size="15.15" text-anchor="middle" fill="#222">SQRT (count/total)</text>
<text x="505.60" y="35" font-size="21.4" fill="#111">GluN1<tspan font-size="14" dy="-7" dx="0.3">c</tspan><tspan dy="7" dx="0">/GluN2A</tspan><tspan font-size="14" dy="-7" dx="0.2">c</tspan></text>
<text x="1.80" y="18.80" font-size="25" fill="#111">A</text>
<text x="1.40" y="250.90" font-size="25" fill="#111">B</text>
<text x="214.30" y="251.30" font-size="25" fill="#111">C</text>
<text x="432.20" y="250.90" font-size="25" fill="#111">D</text>
<line x1="93.55" y1="399.27" x2="93.55" y2="391.14" stroke="#111" stroke-width="2.0"/>
<line x1="90.65" y1="391.75" x2="96.45" y2="391.75" stroke="#111" stroke-width="2.0"/>
<rect x="81.80" y="399.57" width="23.50" height="68.03" fill="#ffffff" stroke="#262626" stroke-width="1.45"/>
<line x1="140.55" y1="314.39" x2="140.55" y2="285.79" stroke="#111" stroke-width="2.0"/>
<line x1="137.65" y1="286.39" x2="143.45" y2="286.39" stroke="#111" stroke-width="2.0"/>
<rect x="128.90" y="314.69" width="23.30" height="152.91" fill="#808080" stroke="#262626" stroke-width="1.45"/>
<line x1="187.35" y1="375.49" x2="187.35" y2="344.49" stroke="#111" stroke-width="2.0"/>
<line x1="184.45" y1="345.09" x2="190.25" y2="345.09" stroke="#111" stroke-width="2.0"/>
<rect x="175.40" y="375.79" width="23.90" height="91.81" fill="#000000" stroke="#262626" stroke-width="1.45"/>
<line x1="70.00" y1="256.90" x2="70.00" y2="468.60" stroke="#333" stroke-width="1.4"/>
<line x1="64.00" y1="468.00" x2="210.70" y2="468.00" stroke="#1c1c1c" stroke-width="1.5"/>
<line x1="64.00" y1="467.90" x2="70.00" y2="467.90" stroke="#222" stroke-width="1.3"/>
<text x="61.60" y="473.70" font-size="17.3" text-anchor="end" fill="#111">0</text>
<line x1="64.00" y1="437.80" x2="70.00" y2="437.80" stroke="#222" stroke-width="1.3"/>
<text x="61.60" y="443.60" font-size="17.3" text-anchor="end" fill="#111">1</text>
<line x1="64.00" y1="407.70" x2="70.00" y2="407.70" stroke="#222" stroke-width="1.3"/>
<text x="61.60" y="413.50" font-size="17.3" text-anchor="end" fill="#111">2</text>
<line x1="64.00" y1="377.60" x2="70.00" y2="377.60" stroke="#222" stroke-width="1.3"/>
<text x="61.60" y="383.40" font-size="17.3" text-anchor="end" fill="#111">3</text>
<line x1="64.00" y1="347.50" x2="70.00" y2="347.50" stroke="#222" stroke-width="1.3"/>
<text x="61.60" y="353.30" font-size="17.3" text-anchor="end" fill="#111">4</text>
<line x1="64.00" y1="317.40" x2="70.00" y2="317.40" stroke="#222" stroke-width="1.3"/>
<text x="61.60" y="323.20" font-size="17.3" text-anchor="end" fill="#111">5</text>
<line x1="64.00" y1="287.30" x2="70.00" y2="287.30" stroke="#222" stroke-width="1.3"/>
<text x="61.60" y="293.10" font-size="17.3" text-anchor="end" fill="#111">6</text>
<line x1="64.00" y1="257.20" x2="70.00" y2="257.20" stroke="#222" stroke-width="1.3"/>
<text x="61.60" y="263.00" font-size="17.3" text-anchor="end" fill="#111">7</text>
<text transform="translate(41.20 361.30) rotate(-90)" font-size="19.9" text-anchor="middle" fill="#111">Mean open time (ms)</text>
<text x="140.50" y="289.80" font-size="33" letter-spacing="0.9" text-anchor="middle" fill="#000" stroke="#000" stroke-width="0.3">*</text>
<text transform="translate(98.05 490.00) rotate(-45)" font-size="17.2" text-anchor="end" fill="#111">Control</text>
<text transform="translate(145.05 490.00) rotate(-45)" font-size="17.2" text-anchor="end" fill="#111">UBP684</text>
<g transform="translate(191.85 490.00) rotate(-45)" fill="#111" font-size="17.2"><text x="-83.5" y="0" text-anchor="end">GluN1</text><text x="-80.4" y="-9.2" text-anchor="middle" font-size="12.5">c</text><text x="-9" y="0" text-anchor="end" font-size="17.9">/GluN2A</text><text x="-6.6" y="-8.7" text-anchor="middle" font-size="12.5">c</text></g>
<line x1="304.40" y1="295.10" x2="304.40" y2="266.30" stroke="#111" stroke-width="2.0"/>
<line x1="301.50" y1="266.90" x2="307.30" y2="266.90" stroke="#111" stroke-width="2.0"/>
<rect x="292.60" y="295.40" width="23.60" height="172.20" fill="#ffffff" stroke="#262626" stroke-width="1.45"/>
<line x1="351.05" y1="427.87" x2="351.05" y2="421.82" stroke="#111" stroke-width="2.0"/>
<line x1="348.15" y1="422.42" x2="353.95" y2="422.42" stroke="#111" stroke-width="2.0"/>
<rect x="339.00" y="428.17" width="24.10" height="39.43" fill="#808080" stroke="#262626" stroke-width="1.45"/>
<line x1="398.50" y1="413.66" x2="398.50" y2="395.90" stroke="#111" stroke-width="2.0"/>
<line x1="395.60" y1="396.50" x2="401.40" y2="396.50" stroke="#111" stroke-width="2.0"/>
<rect x="386.70" y="413.96" width="23.60" height="53.64" fill="#000000" stroke="#262626" stroke-width="1.45"/>
<line x1="280.90" y1="256.20" x2="280.90" y2="468.60" stroke="#333" stroke-width="1.4"/>
<line x1="274.90" y1="468.00" x2="422.00" y2="468.00" stroke="#1c1c1c" stroke-width="1.5"/>
<line x1="274.90" y1="467.90" x2="280.90" y2="467.90" stroke="#222" stroke-width="1.3"/>
<text x="272.50" y="473.70" font-size="17.3" text-anchor="end" fill="#111">0</text>
<line x1="274.90" y1="419.90" x2="280.90" y2="419.90" stroke="#222" stroke-width="1.3"/>
<text x="272.50" y="425.70" font-size="17.3" text-anchor="end" fill="#111">5</text>
<line x1="274.90" y1="371.90" x2="280.90" y2="371.90" stroke="#222" stroke-width="1.3"/>
<text x="272.50" y="377.70" font-size="17.3" text-anchor="end" fill="#111">10</text>
<line x1="274.90" y1="323.90" x2="280.90" y2="323.90" stroke="#222" stroke-width="1.3"/>
<text x="272.50" y="329.70" font-size="17.3" text-anchor="end" fill="#111">15</text>
<line x1="274.90" y1="275.90" x2="280.90" y2="275.90" stroke="#222" stroke-width="1.3"/>
<text x="272.50" y="281.70" font-size="17.3" text-anchor="end" fill="#111">20</text>
<text transform="translate(241.20 359.80) rotate(-90)" font-size="19.9" text-anchor="middle" fill="#111">Mean shut time (ms)</text>
<text x="353.60" y="416.00" font-size="33" letter-spacing="0.9" text-anchor="middle" fill="#000" stroke="#000" stroke-width="0.3">***</text>
<text x="400.55" y="391.70" font-size="33" letter-spacing="0.9" text-anchor="middle" fill="#000" stroke="#000" stroke-width="0.3">***</text>
<text transform="translate(308.90 490.00) rotate(-45)" font-size="17.2" text-anchor="end" fill="#111">Control</text>
<text transform="translate(355.55 490.00) rotate(-45)" font-size="17.2" text-anchor="end" fill="#111">UBP684</text>
<g transform="translate(403.00 490.00) rotate(-45)" fill="#111" font-size="17.2"><text x="-83.5" y="0" text-anchor="end">GluN1</text><text x="-80.4" y="-9.2" text-anchor="middle" font-size="12.5">c</text><text x="-9" y="0" text-anchor="end" font-size="17.9">/GluN2A</text><text x="-6.6" y="-8.7" text-anchor="middle" font-size="12.5">c</text></g>
<line x1="522.05" y1="427.26" x2="522.05" y2="418.23" stroke="#111" stroke-width="2.0"/>
<line x1="519.15" y1="418.83" x2="524.95" y2="418.83" stroke="#111" stroke-width="2.0"/>
<rect x="510.00" y="427.56" width="24.10" height="40.03" fill="#ffffff" stroke="#262626" stroke-width="1.45"/>
<line x1="569.60" y1="304.46" x2="569.60" y2="292.72" stroke="#111" stroke-width="2.0"/>
<line x1="566.70" y1="293.32" x2="572.50" y2="293.32" stroke="#111" stroke-width="2.0"/>
<rect x="557.90" y="304.76" width="23.40" height="162.84" fill="#808080" stroke="#262626" stroke-width="1.45"/>
<line x1="616.25" y1="356.53" x2="616.25" y2="337.57" stroke="#111" stroke-width="2.0"/>
<line x1="613.35" y1="338.17" x2="619.15" y2="338.17" stroke="#111" stroke-width="2.0"/>
<rect x="604.40" y="356.83" width="23.70" height="110.77" fill="#000000" stroke="#262626" stroke-width="1.45"/>
<line x1="499.00" y1="256.90" x2="499.00" y2="468.60" stroke="#333" stroke-width="1.4"/>
<line x1="493.00" y1="468.00" x2="639.50" y2="468.00" stroke="#1c1c1c" stroke-width="1.5"/>
<line x1="493.00" y1="467.90" x2="499.00" y2="467.90" stroke="#222" stroke-width="1.3"/>
<text x="490.60" y="473.70" font-size="17.3" text-anchor="end" fill="#111">0.0</text>
<line x1="493.00" y1="437.80" x2="499.00" y2="437.80" stroke="#222" stroke-width="1.3"/>
<text x="490.60" y="443.60" font-size="17.3" text-anchor="end" fill="#111">0.1</text>
<line x1="493.00" y1="407.70" x2="499.00" y2="407.70" stroke="#222" stroke-width="1.3"/>
<text x="490.60" y="413.50" font-size="17.3" text-anchor="end" fill="#111">0.2</text>
<line x1="493.00" y1="377.60" x2="499.00" y2="377.60" stroke="#222" stroke-width="1.3"/>
<text x="490.60" y="383.40" font-size="17.3" text-anchor="end" fill="#111">0.3</text>
<line x1="493.00" y1="347.50" x2="499.00" y2="347.50" stroke="#222" stroke-width="1.3"/>
<text x="490.60" y="353.30" font-size="17.3" text-anchor="end" fill="#111">0.4</text>
<line x1="493.00" y1="317.40" x2="499.00" y2="317.40" stroke="#222" stroke-width="1.3"/>
<text x="490.60" y="323.20" font-size="17.3" text-anchor="end" fill="#111">0.5</text>
<line x1="493.00" y1="287.30" x2="499.00" y2="287.30" stroke="#222" stroke-width="1.3"/>
<text x="490.60" y="293.10" font-size="17.3" text-anchor="end" fill="#111">0.6</text>
<line x1="493.00" y1="257.20" x2="499.00" y2="257.20" stroke="#222" stroke-width="1.3"/>
<text x="490.60" y="263.00" font-size="17.3" text-anchor="end" fill="#111">0.7</text>
<text transform="translate(455.20 362.00) rotate(-90)" font-size="19.9" text-anchor="middle" fill="#111">Open probability</text>
<text x="570.60" y="300.25" font-size="33" letter-spacing="0.9" text-anchor="middle" fill="#000" stroke="#000" stroke-width="0.3">***</text>
<text x="617.50" y="341.10" font-size="33" letter-spacing="0.9" text-anchor="middle" fill="#000" stroke="#000" stroke-width="0.3">*</text>
<text transform="translate(526.55 490.00) rotate(-45)" font-size="17.2" text-anchor="end" fill="#111">Control</text>
<text transform="translate(574.10 490.00) rotate(-45)" font-size="17.2" text-anchor="end" fill="#111">UBP684</text>
<g transform="translate(620.75 490.00) rotate(-45)" fill="#111" font-size="17.2"><text x="-83.5" y="0" text-anchor="end">GluN1</text><text x="-80.4" y="-9.2" text-anchor="middle" font-size="12.5">c</text><text x="-9" y="0" text-anchor="end" font-size="17.9">/GluN2A</text><text x="-6.6" y="-8.7" text-anchor="middle" font-size="12.5">c</text></g>
</g>
</svg>
</body></html>
